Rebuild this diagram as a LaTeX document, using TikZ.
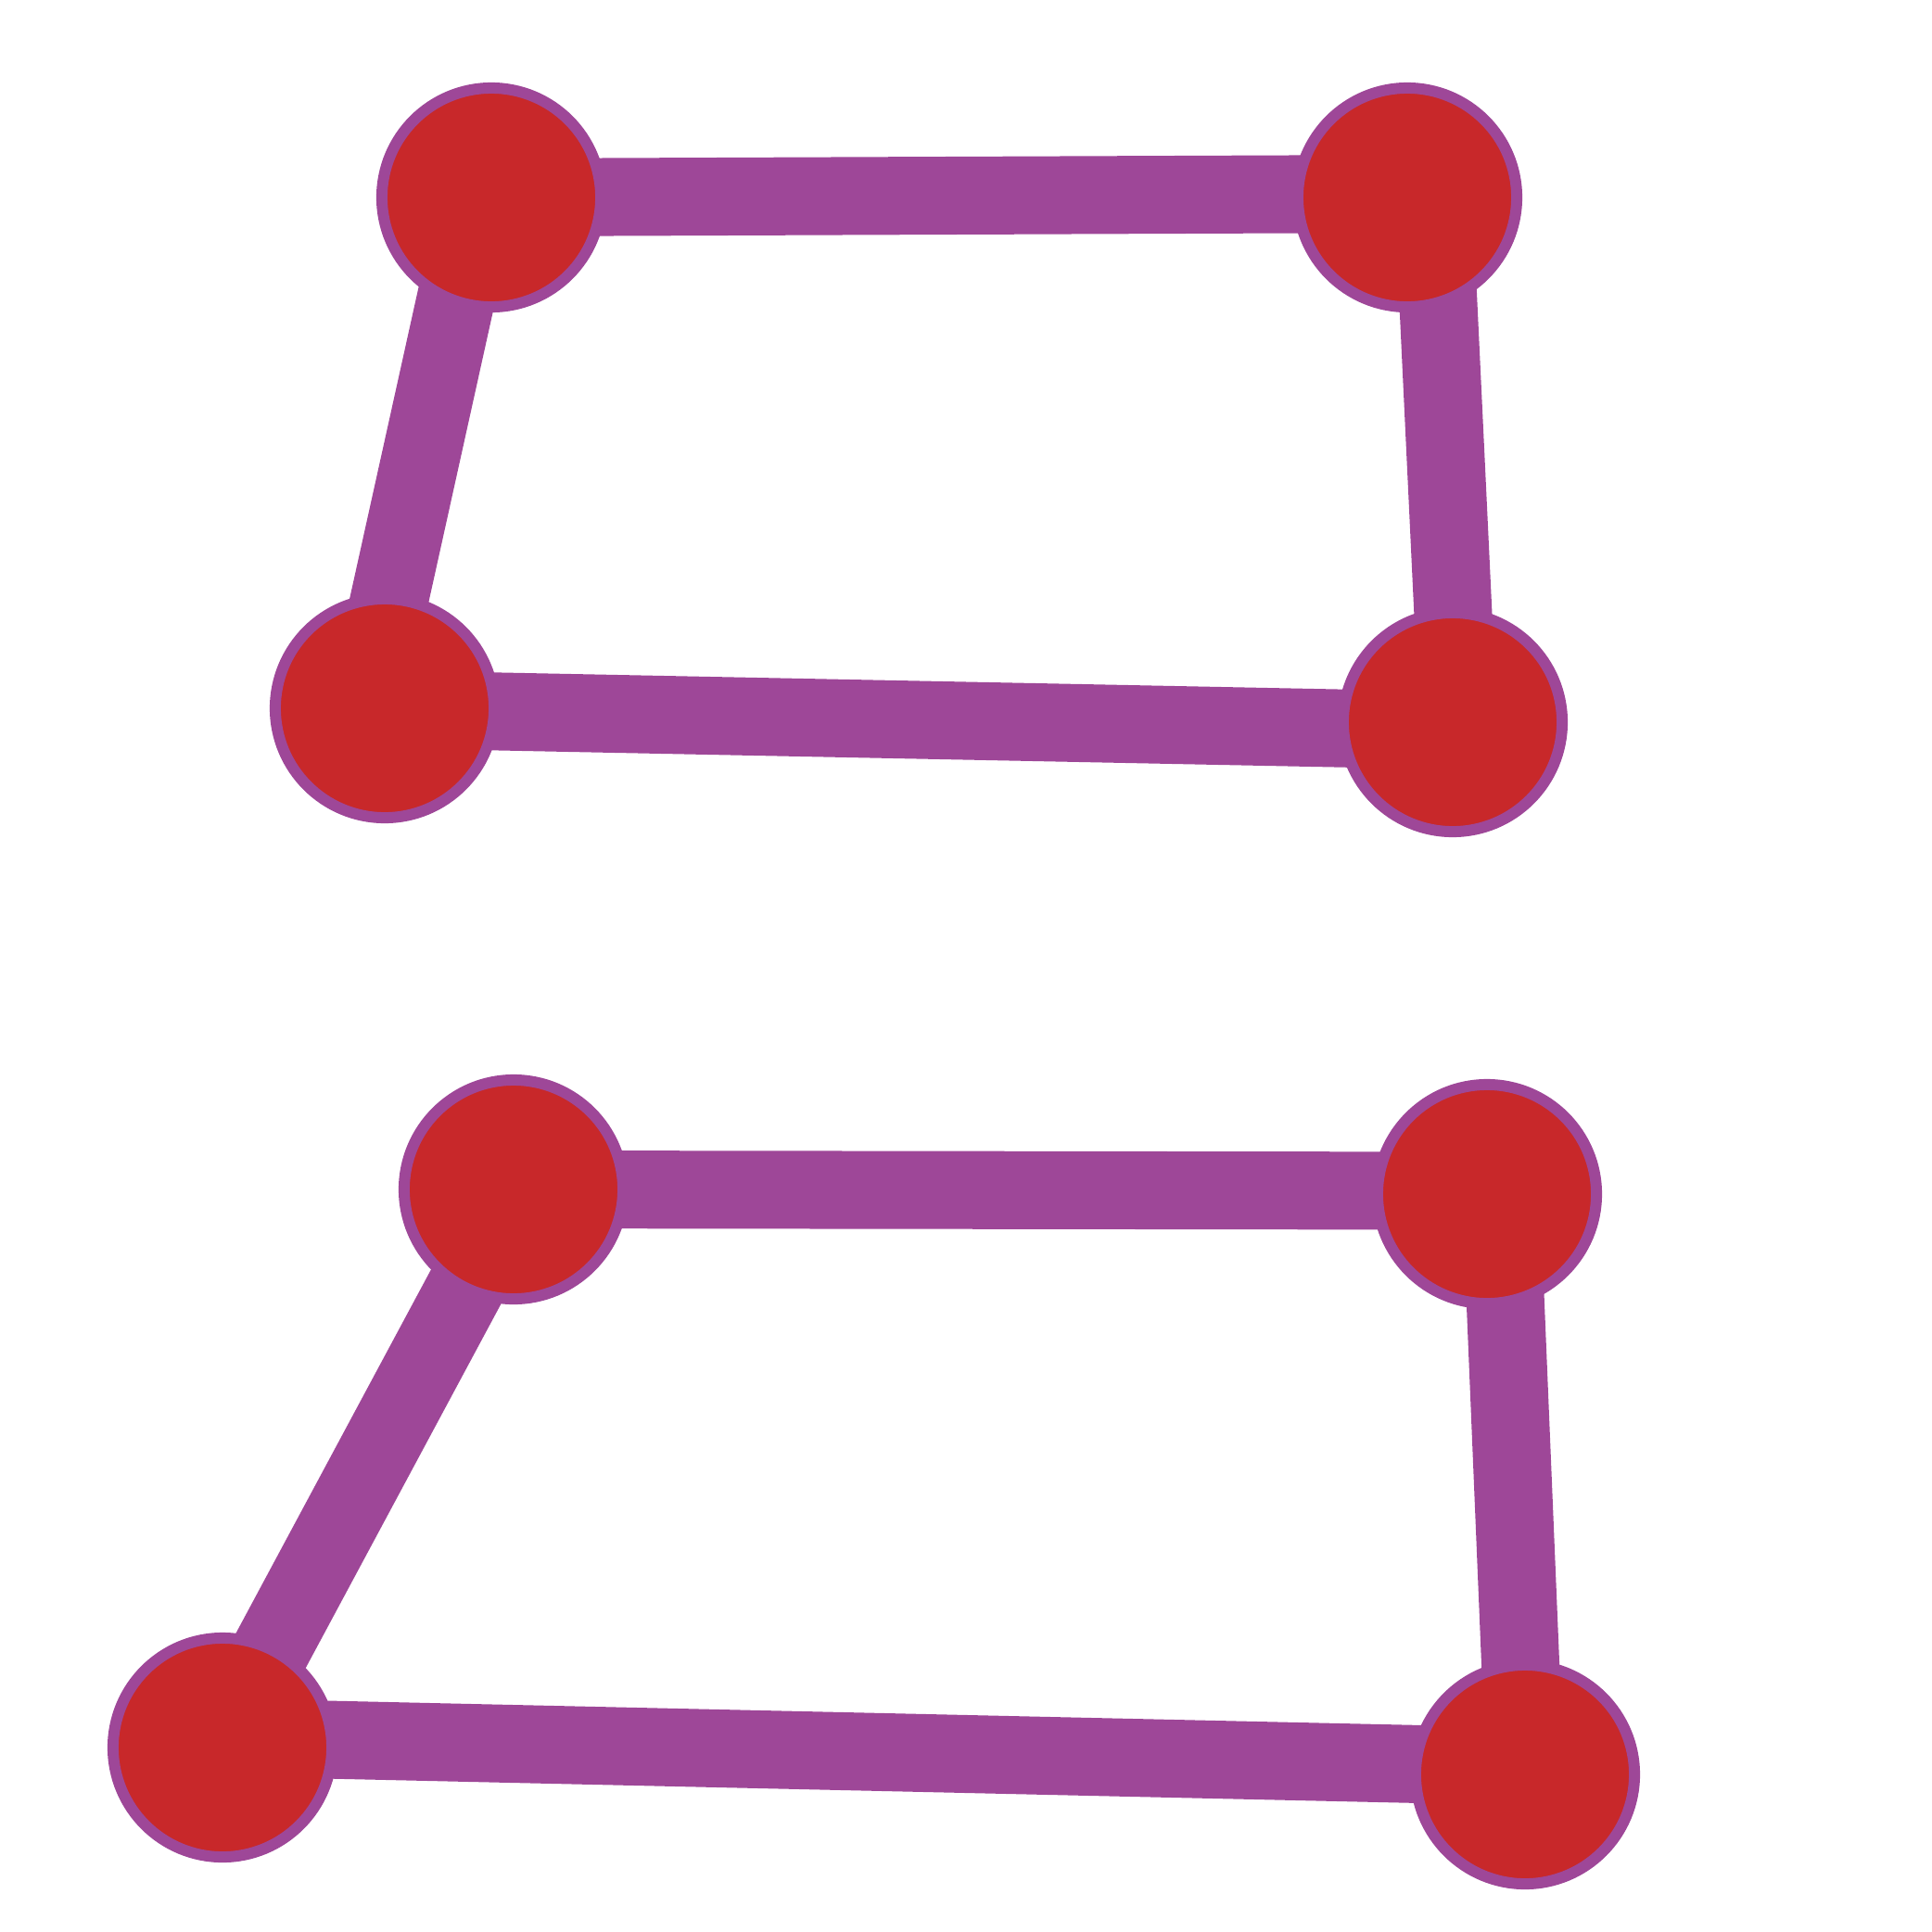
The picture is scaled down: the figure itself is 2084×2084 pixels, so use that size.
\documentclass[tikz,border=0pt]{standalone}
\usepackage{tikz}
\usetikzlibrary{backgrounds}
\definecolor{GRPurple}{HTML}{9E4798}
\definecolor{GRRed}{HTML}{C8282A}
\tikzset{
  vertex/.style={circle,draw=GRPurple,fill=GRRed,line width=0.12cm,
                 minimum size=2.36cm,inner sep=0pt},
  edge/.style={GRPurple,line width=0.84cm},
}
\begin{document}
\begin{tikzpicture}[x=0.01cm,y=-0.01cm]
    \useasboundingbox (0,0) rectangle (2084,2084);
    % upper graph
    \node[vertex] (a1) at (530,213) {};
    \node[vertex] (b1) at (1518,213) {};
    \node[vertex] (c1) at (415,764) {};
    \node[vertex] (d1) at (1567,779) {};
    % lower graph
    \node[vertex] (a2) at (554,1283) {};
    \node[vertex] (b2) at (1604,1288) {};
    \node[vertex] (c2) at (240,1885) {};
    \node[vertex] (d2) at (1645,1914) {};

    \begin{scope}[on background layer]
      \draw[edge] (a1.center)--([yshift=0.04cm]b1.center);
      \draw[edge] ([xshift=-0.14cm]a1.center)--([xshift=-0.21cm]c1.center);
      \draw[edge] ([xshift=0.28cm]b1.center)--([xshift=0.06cm]d1.center);
      \draw[edge] ([yshift=-0.01cm]c1.center)--([yshift=-0.09cm]d1.center);
      \draw[edge] (a2.center)--([yshift=0.035cm]b2.center);
      \draw[edge] ([xshift=0.05cm]a2.center)--([xshift=-0.04cm]c2.center);
      \draw[edge] ([xshift=0.15cm]b2.center)--(d2.center);
      \draw[edge] ([yshift=0.11cm]c2.center)--([yshift=0.085cm]d2.center);
    \end{scope}
  \end{tikzpicture}
\end{document}
